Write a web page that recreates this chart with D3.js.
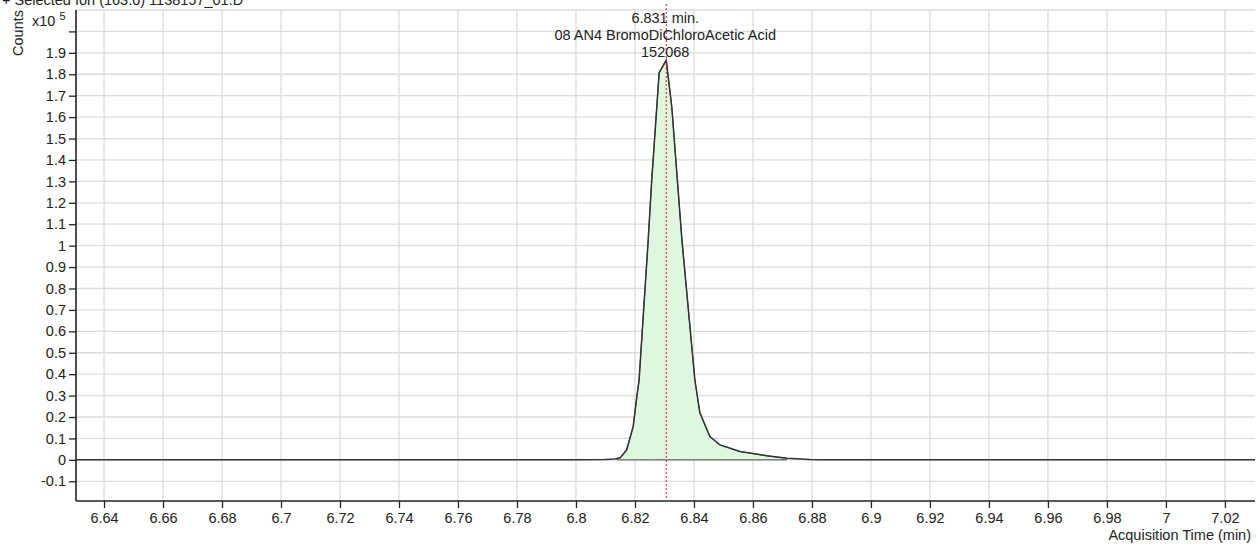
<!DOCTYPE html>
<html>
<head>
<meta charset="utf-8">
<script src="https://cdn.jsdelivr.net/npm/d3@7"></script>
<style>
  body { margin: 0; background: #fff; }
  text { font-family: "Liberation Sans", Arial, sans-serif; }
</style>
</head>
<body>
<script>
// chromatogram, counts in units of 1e5
var times = [6.6305, 6.7550, 6.8000, 6.8100, 6.8132, 6.8139, 6.8150, 6.8172, 6.8194,
             6.8205, 6.8214, 6.8245, 6.8257, 6.8282, 6.8306, 6.8325, 6.8359, 6.8403,
             6.8420, 6.8454, 6.8488, 6.8556, 6.8647, 6.8714, 6.8793, 6.8827, 6.9150,
             7.0302];
var counts = [0, 0, 0.001, 0.002, 0.004, 0.006, 0.010, 0.047, 0.156,
              0.280, 0.374, 1.030, 1.310, 1.807, 1.866, 1.645, 1.030, 0.374,
              0.220, 0.109, 0.070, 0.039, 0.019, 0.008, 0.002, 0.001, 0,
              0];

// integrated region and peak label
var integStart = 6.8139;
var integEnd = 6.8714;
var peakTime = 6.8306;
var peakLabels = ["6.831 min.", "08 AN4 BromoDiChloroAcetic Acid", "152068"];

var xTicks = [6.64, 6.66, 6.68, 6.7, 6.72, 6.74, 6.76, 6.78, 6.8, 6.82, 6.84, 6.86,
              6.88, 6.9, 6.92, 6.94, 6.96, 6.98, 7, 7.02];
var yTicks = [-0.1, 0, 0.1, 0.2, 0.3, 0.4, 0.5, 0.6, 0.7, 0.8, 0.9, 1, 1.1, 1.2,
              1.3, 1.4, 1.5, 1.6, 1.7, 1.8, 1.9, 2.0];
var yGrid = yTicks.concat([2.1]);

var title = "+ Selected Ion (163.0) 1138157_01.D";

var w = 1259;
var h = 545;
var plotLeft = 76, plotRight = 1255, plotTop = 10, plotBottom = 501;
var fontSize = '14.5px';
var ink = '#222';

var data = times.map((t, i) => ({ t: t, v: counts[i] }));

var x = d3.scaleLinear().domain([6.6305, 7.0302]).range([plotLeft, plotRight]);
var y = d3.scaleLinear().domain([-0.192, 2.1]).range([plotBottom, plotTop]);

var svg = d3.select('body')
            .append('svg')
            .attr('width', w)
            .attr('height', h);

// grid
svg.append('g')
  .selectAll('line')
  .data(xTicks)
  .enter()
  .append('line')
  .attr('x1', d => x(d))
  .attr('x2', d => x(d))
  .attr('y1', plotTop)
  .attr('y2', plotBottom)
  .attr('stroke', '#dcdcdc')
  .attr('stroke-width', 1.3);

svg.append('g')
  .selectAll('line')
  .data(yGrid)
  .enter()
  .append('line')
  .attr('x1', plotLeft)
  .attr('x2', plotRight)
  .attr('y1', d => y(d))
  .attr('y2', d => y(d))
  .attr('stroke', '#dcdcdc')
  .attr('stroke-width', 1.3);

// integrated area
var areaData = data.filter(d => d.t >= integStart && d.t <= integEnd);
svg.append('path')
  .datum(areaData)
  .attr('d', d3.area().x(d => x(d.t)).y0(y(0)).y1(d => y(d.v)))
  .attr('fill', '#def7de')
  .attr('stroke', '#444')
  .attr('stroke-width', 1);

// trace
svg.append('path')
  .datum(data)
  .attr('d', d3.line().x(d => x(d.t)).y(d => y(d.v)))
  .attr('fill', 'none')
  .attr('stroke', '#333')
  .attr('stroke-width', 1.5);

// peak marker
svg.append('line')
  .attr('x1', x(peakTime))
  .attr('x2', x(peakTime))
  .attr('y1', 4)
  .attr('y2', plotBottom - 3)
  .attr('stroke', '#e8201e')
  .attr('stroke-width', 1)
  .attr('stroke-dasharray', '2,2');

svg.append('g')
  .selectAll('text')
  .data(peakLabels)
  .enter()
  .append('text')
  .text(d => d)
  .attr('x', x(peakTime) - 1)
  .attr('y', (d, i) => 23 + i * 17)
  .attr('text-anchor', 'middle')
  .attr('font-size', fontSize)
  .attr('fill', ink);

// axes
var xAxis = d3.axisBottom(x)
  .tickValues(xTicks)
  .tickSize(7)
  .tickPadding(5)
  .tickFormat(d => String(+d.toFixed(2)));

var yAxis = d3.axisLeft(y)
  .tickValues(yTicks)
  .tickSize(7)
  .tickPadding(3)
  .tickFormat(d => d >= 2 ? '' : String(+d.toFixed(1)));

var gx = svg.append('g')
  .attr('transform', 'translate(0,' + plotBottom + ')')
  .call(xAxis);

var gy = svg.append('g')
  .attr('transform', 'translate(' + plotLeft + ',0)')
  .call(yAxis);

[gx, gy].forEach(g => {
  g.select('.domain').attr('stroke', ink).attr('stroke-width', 1.6);
  g.selectAll('.tick line').attr('stroke', ink).attr('stroke-width', 1.3);
  g.selectAll('.tick text')
    .attr('font-size', fontSize)
    .attr('font-family', '"Liberation Sans", Arial, sans-serif')
    .attr('fill', ink);
});
gx.select('.domain').attr('d', 'M' + plotLeft + ',0H' + plotRight);
gy.select('.domain').attr('d', 'M0,' + plotTop + 'V' + plotBottom);

// labels
svg.append('text')
  .text('Acquisition Time (min)')
  .attr('x', 1251)
  .attr('y', 540)
  .attr('text-anchor', 'end')
  .attr('font-size', fontSize)
  .attr('fill', ink);

svg.append('text')
  .text('Counts')
  .attr('transform', 'translate(23,33) rotate(-90)')
  .attr('text-anchor', 'middle')
  .attr('font-size', fontSize)
  .attr('fill', ink);

var scaleLabel = svg.append('text')
  .attr('x', 32)
  .attr('y', 26)
  .attr('font-size', fontSize)
  .attr('fill', ink);
scaleLabel.append('tspan').text('x10');
scaleLabel.append('tspan')
  .text('5')
  .attr('dx', 4)
  .attr('dy', -6)
  .attr('font-size', '11px');

svg.append('text')
  .text(title)
  .attr('x', 2)
  .attr('y', 4.5)
  .attr('font-size', fontSize)
  .attr('fill', ink);
</script>
</body>
</html>
